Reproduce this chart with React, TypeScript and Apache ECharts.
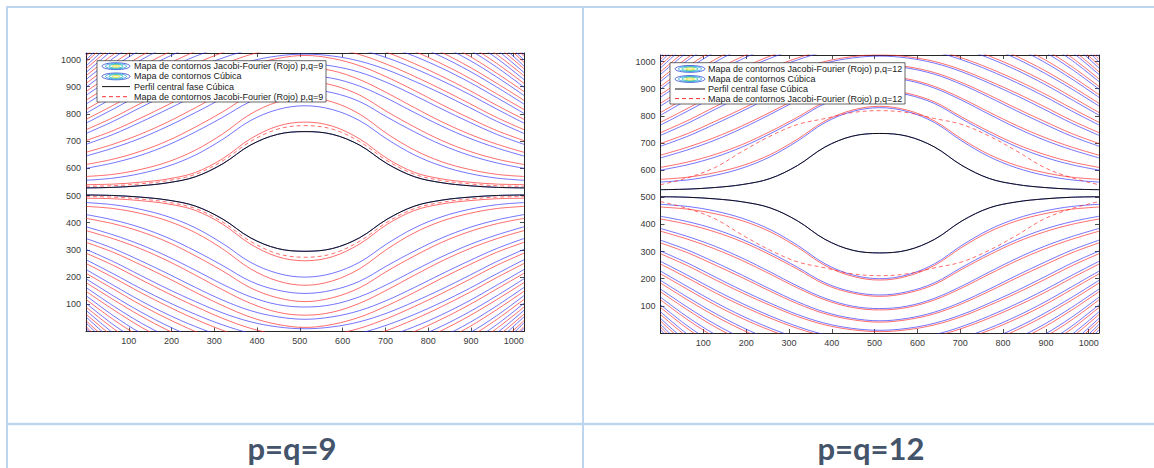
import React, { useEffect, useRef } from "react";
import * as echarts from "echarts";

// x positions (pixel columns of the 1024x1024 phase map) where curves were read
const xSamples = [0, 64, 128, 192, 256, 320, 384, 448, 512, 576, 640, 704, 768, 832, 896, 960, 1024];

// Half profiles (edge x=0 -> centre x=512); maps are mirror-symmetric about x=512
const blueUpper = [
  [528, 530, 536, 547, 569, 617, 685, 725, 735],
  [556, 564, 581, 608, 649, 707, 775, 816, 830],
  [600, 620, 648, 686, 734, 788, 845, 878, 890],
  [645, 675, 711, 755, 805, 857, 902, 931, 940],
  [688, 725, 770, 818, 868, 915, 953, 976, 985],
  [728, 773, 824, 874, 920, 962, 994, 1013, 1020],
  [766, 818, 872, 922, 967, 1006, 1036, 1051, 1055],
  [802, 860, 917, 968, 1012, 1048, 1073, 1086, 1090],
  [836, 899, 958, 1010, 1054, 1088, 1110, 1121, 1124],
  [868, 936, 998, 1050, 1093, 1125, 1145, 1155, 1158],
  [898, 972, 1036, 1088, 1130, 1160, 1178, 1187, 1190],
  [926, 1005, 1071, 1123, 1163, 1191, 1208, 1216, 1219],
  [952, 1036, 1104, 1156, 1194, 1220, 1236, 1243, 1246],
  [976, 1065, 1134, 1185, 1222, 1247, 1262, 1269, 1272],
  [998, 1092, 1162, 1212, 1248, 1272, 1286, 1293, 1295],
  [1018, 1117, 1188, 1237, 1272, 1295, 1308, 1315, 1317],
];
const blueLower = [
  [502, 500, 494, 483, 461, 413, 345, 305, 295],
  [474, 466, 449, 422, 381, 323, 255, 214, 200],
  [430, 410, 382, 344, 296, 242, 185, 152, 140],
  [385, 355, 319, 275, 225, 173, 128, 99, 90],
  [342, 305, 260, 212, 162, 115, 77, 54, 45],
  [302, 257, 206, 156, 110, 68, 36, 17, 10],
  [264, 212, 158, 108, 63, 24, -6, -21, -25],
  [228, 170, 113, 62, 18, -18, -43, -56, -60],
  [194, 131, 72, 20, -24, -58, -80, -91, -94],
  [162, 94, 32, -20, -63, -95, -115, -125, -128],
  [132, 58, -6, -58, -100, -130, -148, -157, -160],
  [104, 25, -41, -93, -133, -161, -178, -186, -189],
  [78, -6, -74, -126, -164, -190, -206, -213, -216],
  [54, -35, -104, -155, -192, -217, -232, -239, -242],
  [32, -62, -132, -182, -218, -242, -256, -263, -265],
  [12, -87, -158, -207, -242, -265, -278, -285, -287],
];
const blackUpper = [528, 530, 536, 547, 569, 617, 685, 725, 735];
const blackLower = [502, 500, 494, 483, 461, 413, 345, 305, 295];

// p=q=9 Jacobi-Fourier contours (red)
const red9Upper = [
  [540, 542, 549, 561, 585, 636, 708, 755, 770],
  [570, 578, 596, 624, 667, 727, 799, 844, 860],
  [614, 634, 663, 702, 752, 808, 869, 906, 920],
  [659, 689, 726, 771, 823, 877, 926, 959, 970],
  [702, 739, 785, 834, 886, 935, 977, 1004, 1015],
  [742, 787, 839, 890, 938, 982, 1018, 1041, 1050],
  [780, 832, 887, 938, 985, 1026, 1060, 1079, 1085],
  [816, 874, 932, 984, 1030, 1068, 1097, 1114, 1120],
  [850, 913, 973, 1026, 1072, 1108, 1134, 1149, 1154],
  [882, 950, 1013, 1066, 1111, 1145, 1169, 1183, 1188],
  [912, 986, 1051, 1104, 1148, 1180, 1202, 1215, 1220],
  [940, 1019, 1086, 1139, 1181, 1211, 1232, 1244, 1249],
  [966, 1050, 1119, 1172, 1212, 1240, 1260, 1271, 1276],
  [990, 1079, 1149, 1201, 1240, 1267, 1286, 1297, 1302],
  [1012, 1106, 1177, 1228, 1266, 1292, 1310, 1321, 1325],
];
const red9Lower = [
  [490, 488, 481, 469, 445, 394, 322, 275, 260],
  [460, 452, 434, 406, 363, 303, 231, 186, 170],
  [416, 396, 367, 328, 278, 222, 161, 124, 110],
  [371, 341, 304, 259, 207, 153, 104, 71, 60],
  [328, 291, 245, 196, 144, 95, 53, 26, 15],
  [288, 243, 191, 140, 92, 48, 12, -11, -20],
  [250, 198, 143, 92, 45, 4, -30, -49, -55],
  [214, 156, 98, 46, 0, -38, -67, -84, -90],
  [180, 117, 57, 4, -42, -78, -104, -119, -124],
  [148, 80, 17, -36, -81, -115, -139, -153, -158],
  [118, 44, -21, -74, -118, -150, -172, -185, -190],
  [90, 11, -56, -109, -151, -181, -202, -214, -219],
  [64, -20, -89, -142, -182, -210, -230, -241, -246],
  [40, -49, -119, -171, -210, -237, -256, -267, -272],
  [18, -76, -147, -198, -236, -262, -280, -291, -295],
];
const dashed9Upper = [534, 536, 543, 555, 578, 628, 698, 744, 757];
const dashed9Lower = [496, 494, 487, 475, 452, 402, 332, 286, 273];

// p=q=12 Jacobi-Fourier contours (red)
const red12Upper = [
  [566, 574, 591, 617, 657, 714, 781, 821, 835],
  [610, 630, 658, 695, 742, 795, 851, 883, 895],
  [655, 685, 721, 764, 813, 864, 908, 936, 945],
  [698, 735, 780, 827, 876, 922, 959, 981, 990],
  [738, 783, 834, 883, 928, 969, 1000, 1018, 1025],
  [776, 828, 882, 931, 975, 1013, 1042, 1056, 1060],
  [812, 870, 927, 977, 1020, 1055, 1079, 1091, 1095],
  [846, 909, 968, 1019, 1062, 1095, 1116, 1126, 1129],
  [878, 946, 1008, 1059, 1101, 1132, 1151, 1160, 1163],
  [908, 982, 1046, 1097, 1138, 1167, 1184, 1192, 1195],
  [936, 1015, 1081, 1132, 1171, 1198, 1214, 1221, 1224],
  [962, 1046, 1114, 1165, 1202, 1227, 1242, 1248, 1251],
  [986, 1075, 1144, 1194, 1230, 1254, 1268, 1274, 1277],
  [1008, 1102, 1172, 1221, 1256, 1279, 1292, 1298, 1300],
];
const red12Lower = [
  [464, 456, 439, 413, 373, 316, 249, 209, 195],
  [420, 400, 372, 335, 288, 235, 179, 147, 135],
  [375, 345, 309, 266, 217, 166, 122, 94, 85],
  [332, 295, 250, 203, 154, 108, 71, 49, 40],
  [292, 247, 196, 147, 102, 61, 30, 12, 5],
  [254, 202, 148, 99, 55, 17, -12, -26, -30],
  [218, 160, 103, 53, 10, -25, -49, -61, -65],
  [184, 121, 62, 11, -32, -65, -86, -96, -99],
  [152, 84, 22, -29, -71, -102, -121, -130, -133],
  [122, 48, -16, -67, -108, -137, -154, -162, -165],
  [94, 15, -51, -102, -141, -168, -184, -191, -194],
  [68, -16, -84, -135, -172, -197, -212, -218, -221],
  [44, -45, -114, -164, -200, -224, -238, -244, -247],
  [22, -72, -142, -191, -226, -249, -262, -268, -270],
];
const dashed12Upper = [546, 572, 610, 670, 725, 768, 790, 812, 819];
const dashed12Lower = [484, 458, 420, 360, 305, 262, 240, 218, 211];

const captions = ["p=q=9", "p=q=12"];
const legendLabels9 = [
  "Mapa de contornos Jacobi-Fourier (Rojo) p,q=9",
  "Mapa de contornos Cúbica",
  "Perfil central fase Cúbica",
  "Mapa de contornos Jacobi-Fourier (Rojo) p,q=9",
];
const legendLabels12 = [
  "Mapa de contornos Jacobi-Fourier (Rojo) p,q=12",
  "Mapa de contornos Cúbica",
  "Perfil central fase Cúbica",
  "Mapa de contornos Jacobi-Fourier (Rojo) p,q=12",
];

const BLUE = "rgba(40,40,255,0.72)";
const RED = "rgba(255,30,30,0.72)";
const BLACK = "#111111";
const BORDER = "#BDD5EE";
const AXIS = "#262626";

const mirror = (h: number[]) => [...h, ...h.slice(0, -1).reverse()];

function curve(half: number[], grid: number, color: string, width: number, z: number, dashed = false) {
  const ys = mirror(half);
  return {
    type: "line",
    xAxisIndex: grid * 2,
    yAxisIndex: grid * 2,
    data: xSamples.map((x, i) => [x, ys[i]]),
    showSymbol: false,
    symbol: "none",
    smooth: 0.35,
    clip: true,
    silent: true,
    z,
    lineStyle: { color, width, type: dashed ? [4, 3] : "solid" },
  };
}

function makeAxes(gridIndex: number) {
  const tickLabel = (v: number) => (v > 0 && v % 100 === 0 && v <= 1000 ? String(v) : "");
  const common = {
    type: "value",
    gridIndex,
    min: 0,
    max: 1024,
    interval: 100,
    splitLine: { show: false },
    axisLine: { show: true, onZero: false, lineStyle: { color: AXIS, width: 1 } },
    axisTick: { show: true, inside: true, length: 4, lineStyle: { color: AXIS, width: 0.8 } },
  };
  const label = { fontSize: 9, color: "#3a3a3a", fontFamily: "Liberation Sans", formatter: tickLabel };
  const x = [
    { ...common, position: "bottom", axisLabel: { ...label, margin: 5 } },
    { ...common, position: "top", axisLabel: { show: false } },
  ];
  const y = [
    { ...common, position: "left", axisLabel: { ...label, margin: 5 } },
    { ...common, position: "right", axisLabel: { show: false } },
  ];
  return { x, y };
}

function legendGraphic(
  bx: number, by: number, bw: number, bh: number,
  iconCx: number, iconW: number, textX: number, rowYs: number[], labels: string[]
) {
  const els: any[] = [];
  els.push({
    type: "rect",
    shape: { x: bx, y: by, width: bw, height: bh },
    style: { fill: "#ffffff", stroke: AXIS, lineWidth: 0.7 },
    z: 100,
  });
  const ringColors = ["#4459d6", "#2b9fe0", "#27c1a6", "#e6df2a"];
  const ringR = [iconW / 2, iconW / 2 - 3.5, iconW / 2 - 7, iconW / 2 - 10.5];
  for (let r = 0; r < 2; r++) {
    ringColors.forEach((c, i) => {
      els.push({
        type: "ellipse",
        shape: { cx: iconCx, cy: rowYs[r], rx: ringR[i], ry: 3.4 - i * 0.8 },
        style: { fill: "none", stroke: c, lineWidth: 0.9 },
        z: 101,
      });
    });
  }
  els.push({
    type: "line",
    shape: { x1: iconCx - iconW / 2, y1: rowYs[2], x2: iconCx + iconW / 2, y2: rowYs[2] },
    style: { stroke: BLACK, lineWidth: 1 },
    z: 101,
  });
  els.push({
    type: "line",
    shape: { x1: iconCx - iconW / 2, y1: rowYs[3], x2: iconCx + iconW / 2, y2: rowYs[3] },
    style: { stroke: "#ff3030", lineWidth: 1, lineDash: [4, 3] },
    z: 101,
  });
  labels.forEach((t, i) => {
    els.push({
      type: "text",
      x: textX,
      y: rowYs[i],
      style: { text: t, fill: "#1a1a1a", fontSize: 9, fontFamily: "Liberation Sans", verticalAlign: "middle", align: "left" },
      z: 102,
    });
  });
  return els;
}

export default function App() {
  const ref = useRef<HTMLDivElement>(null);
  useEffect(() => {
    if (!ref.current) return;
    const chart = echarts.init(ref.current, undefined, { renderer: "svg" });
    const a0 = makeAxes(0);
    const a1 = makeAxes(1);

    const series: any[] = [];
    const grids: [number, number[][], number[][], number[][], number[][], number[], number[]][] = [
      [0, blueUpper, blueLower, red9Upper, red9Lower, dashed9Upper, dashed9Lower],
      [1, blueUpper, blueLower, red12Upper, red12Lower, dashed12Upper, dashed12Lower],
    ];
    grids.forEach(([g, bu, bl, ru, rl, du, dl]) => {
      bu.forEach((h) => series.push(curve(h, g, BLUE, 0.9, 2)));
      bl.forEach((h) => series.push(curve(h, g, BLUE, 0.9, 2)));
      ru.forEach((h) => series.push(curve(h, g, RED, 0.9, 3)));
      rl.forEach((h) => series.push(curve(h, g, RED, 0.9, 3)));
      series.push(curve(du, g, RED, 0.9, 4, true));
      series.push(curve(dl, g, RED, 0.9, 4, true));
      series.push(curve(blackUpper, g, BLACK, 1, 5));
      series.push(curve(blackLower, g, BLACK, 1, 5));
    });

    const graphic: any[] = [
      // table borders
      { type: "line", shape: { x1: 6, y1: 7, x2: 1154, y2: 7 }, style: { stroke: BORDER, lineWidth: 2 }, z: 50 },
      { type: "line", shape: { x1: 7, y1: 6, x2: 7, y2: 468 }, style: { stroke: BORDER, lineWidth: 2 }, z: 50 },
      { type: "line", shape: { x1: 583, y1: 6, x2: 583, y2: 468 }, style: { stroke: BORDER, lineWidth: 2 }, z: 50 },
      { type: "line", shape: { x1: 6, y1: 424, x2: 1154, y2: 424 }, style: { stroke: BORDER, lineWidth: 2.5 }, z: 50 },
      // captions
      {
        type: "text", x: 292, y: 448,
        style: { text: captions[0], fill: "#44546A", fontSize: 31, fontWeight: "bold", fontFamily: "Lato", align: "center", verticalAlign: "middle" },
        z: 50,
      },
      {
        type: "text", x: 871, y: 448,
        style: { text: captions[1], fill: "#44546A", fontSize: 31, fontWeight: "bold", fontFamily: "Lato", align: "center", verticalAlign: "middle" },
        z: 50,
      },
      ...legendGraphic(97, 60.7, 229, 41.3, 116, 28, 134, [66.2, 76.4, 86.6, 96.7], legendLabels9),
      ...legendGraphic(670, 62.7, 235, 41.3, 690, 30, 708, [68.9, 79.0, 89.0, 98.6], legendLabels12),
    ];

    chart.setOption({
      animation: false,
      backgroundColor: "#ffffff",
      grid: [
        { left: 86, top: 53, width: 438, height: 278.5, show: false },
        { left: 660.5, top: 55, width: 438.5, height: 278, show: false },
      ],
      xAxis: [...a0.x, ...a1.x],
      yAxis: [...a0.y, ...a1.y],
      series,
      graphic,
    });
    return () => chart.dispose();
  }, []);
  return (
    <div
      ref={ref}
      style={{ position: "absolute", left: 0, top: 0, width: 1154, height: 468, background: "#fff" }}
    />
  );
}
